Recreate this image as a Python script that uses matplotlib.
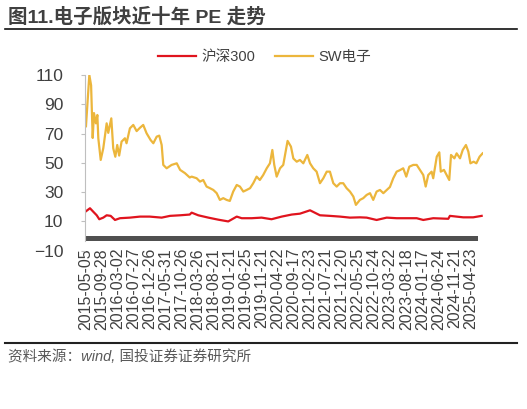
import matplotlib
matplotlib.use('Agg')
import matplotlib.pyplot as plt

plt.rcParams['font.family'] = ['Liberation Sans', 'Noto Sans CJK SC', 'DejaVu Sans']
plt.rcParams['axes.unicode_minus'] = True

# tick labels (one label every ~101 trading days)
date_labels = ['2015-05-05', '2015-09-28', '2016-03-02', '2016-07-27', '2016-12-26',
               '2017-05-31', '2017-10-26', '2018-03-26', '2018-08-21', '2019-01-21',
               '2019-06-25', '2019-11-21', '2020-04-22', '2020-09-17', '2021-02-23',
               '2021-07-21', '2021-12-20', '2022-05-25', '2022-10-24', '2023-03-22',
               '2023-08-18', '2024-01-17', '2024-06-24', '2024-11-21', '2025-04-23']

# SW电子 PE, x in label-interval units
sw_x = [0.03, 0.24, 0.35, 0.45, 0.53, 0.65, 0.74, 0.8, 0.95, 1.11, 1.32, 1.42, 1.61, 1.73,
        1.86, 1.98, 2.1, 2.25, 2.46, 2.56, 2.77, 2.98, 3.19, 3.4, 3.6, 3.81, 4.06, 4.23,
        4.44, 4.6, 4.75, 4.85, 5.06, 5.37, 5.69, 5.9, 6.2, 6.5, 6.62, 6.93, 7.14, 7.34,
        7.55, 7.76, 7.97, 8.18, 8.38, 8.59, 8.8, 9.0, 9.21, 9.43, 9.63, 9.84, 10.05, 10.26,
        10.46, 10.67, 10.87, 11.08, 11.3, 11.5, 11.65, 11.77, 11.92, 12.13, 12.33, 12.48,
        12.6, 12.81, 12.96, 13.17, 13.37, 13.58, 13.83, 14.0, 14.2, 14.41, 14.62, 14.83,
        15.04, 15.24, 15.45, 15.66, 15.87, 16.07, 16.28, 16.49, 16.7, 16.86, 17.11, 17.32,
        17.53, 17.74, 17.94, 18.15, 18.36, 18.57, 18.78, 18.98, 19.19, 19.4, 19.6, 19.81,
        20.0, 20.19, 20.44, 20.65, 20.85, 21.06, 21.21, 21.37, 21.58, 21.68, 21.9, 22.06,
        22.15, 22.35, 22.52, 22.68, 22.79, 23.0, 23.14, 23.35, 23.52, 23.72, 23.87, 24.0,
        24.2, 24.37, 24.57, 24.76]
sw_pe = [75, 110, 103, 67, 84, 77, 82.7, 66.8, 52, 60, 77, 70.5, 80.4, 60,
         54.2, 62.2, 55, 64.5, 66.8, 63.4, 73.6, 75.9, 71.7, 74, 75.9, 70.2, 65.6, 63.4,
         67.9, 68.6, 62.2, 48.6, 46.3, 48.6, 49.7, 45.2, 43, 40, 40.6, 39.5, 37.2, 38.3,
         33.8, 32.7, 31.5, 29.3, 24.7, 25.9, 24.7, 24, 30.4, 34.9, 33.8, 30.4, 31.5, 32.7,
         36.1, 40.6, 38.3, 41.7, 46.3, 49.7, 58.8, 48.6, 40.6, 46.3, 48.6, 57.7,
         65, 61.1, 53, 50.8, 52, 49.7, 55.4, 49.7, 46.3, 44, 36.1, 39.5,
         44, 44, 36.1, 33.8, 36.1, 36.1, 32.7, 30.4, 27, 21.3, 24.7, 25.9,
         28.1, 29.3, 24.7, 30.4, 31.5, 29.3, 31.5, 33.5, 39.5, 44, 45, 46.3,
         40.6, 47.4, 48.6, 48.6, 45.2, 41.7, 33.8, 41.7, 44, 39.5, 54.2, 57.2,
         44, 45.2, 41.7, 38.3, 55.4, 53.1, 56.5, 53.1, 58.8, 62.2, 57.7, 49.7,
         50.8, 49.7, 54.2, 56.5]

# 沪深300 PE
hs_x = [0, 0.28, 0.48, 0.7, 0.86, 1.11, 1.32, 1.57, 1.84, 2.15, 2.77, 3.4, 4.0, 4.75,
        5.27, 5.9, 6.5, 6.62, 7.03, 7.66, 8.28, 8.9, 9.43, 9.74, 10.36, 10.98, 11.6,
        12.23, 12.86, 13.37, 14.0, 14.62, 15.24, 15.87, 16.49, 17.11, 17.53, 18.15,
        18.78, 19.4, 20.0, 20.65, 21.06, 21.68, 22.62, 22.72, 23.55, 24.17, 24.7]
hs_pe = [16.7, 19, 16.7, 14.2, 11.5, 12.6, 14.2, 13.8, 11, 12.2, 12.6, 13.3, 13.3, 12.6,
         13.8, 14.2, 14.7, 16, 14.2, 12.6, 11.2, 10, 13.3, 12.2, 12.2, 12.6, 11.5,
         13.3, 14.7, 15.3, 17.6, 14.2, 13.8, 13.3, 12.6, 12.8, 12.6, 11,
         12.6, 12.2, 12.2, 12.2, 11, 12.2, 11.8, 13.8, 12.8, 12.8, 13.8]

y_ticks = [-10, 10, 30, 50, 70, 90, 110]

fig = plt.figure(figsize=(5.27, 4.09), dpi=100)
ax = fig.add_axes([0.1622, 0.387, 0.7548, 0.4296])

ax.plot(hs_x, hs_pe, color='#E0141E', lw=1.6, label='沪深300')
ax.plot(sw_x, sw_pe, color='#ECB63C', lw=1.6, label='SW电子')

# dense tick marks of the category axis look like a thick bar
ax.fill_between([0, 24.47], -3.4, 0, color='#505050', lw=0)

ax.set_xlim(0, 24.8)
ax.set_ylim(-10, 110)
ax.set_yticks(y_ticks)
ax.set_xticks(range(len(date_labels)))
ax.set_xticklabels(date_labels, rotation=90, fontsize=11.5, color='#404040')
ax.tick_params(axis='x', length=0, pad=-2)
ax.tick_params(axis='y', length=3, color='#BFBFBF', pad=13, labelsize=12.5, labelcolor='#404040')

for s in ['top', 'right', 'bottom']:
    ax.spines[s].set_visible(False)
ax.spines['left'].set_color('#BFBFBF')
ax.spines['left'].set_bounds(-3.4, 110)

fig.legend(loc='center', bbox_to_anchor=(0.502, 1 - 57 / 409), ncol=2, frameon=False,
           fontsize=10.5, handlelength=2.6, columnspacing=1.3, handletextpad=0.4,
           labelcolor='#404040')

fig.text(8 / 527, 1 - 17 / 409, '图11.电子版块近十年 PE 走势', fontsize=14, fontweight='bold',
         color='#404040', va='center', ha='left')
fig.add_artist(plt.Line2D([5 / 527, 517 / 527], [1 - 29 / 409, 1 - 29 / 409],
                          color='#111111', lw=1.2))
fig.add_artist(plt.Line2D([5 / 527, 517 / 527], [1 - 343 / 409, 1 - 343 / 409],
                          color='#222222', lw=1.5))
fig.text(8 / 527, 1 - 357 / 409, '资料来源：wind, 国投证券证券研究所', fontsize=10.5,
         color='#595959', va='center', ha='left', style='italic')

fig.savefig('out.png', dpi=100)
